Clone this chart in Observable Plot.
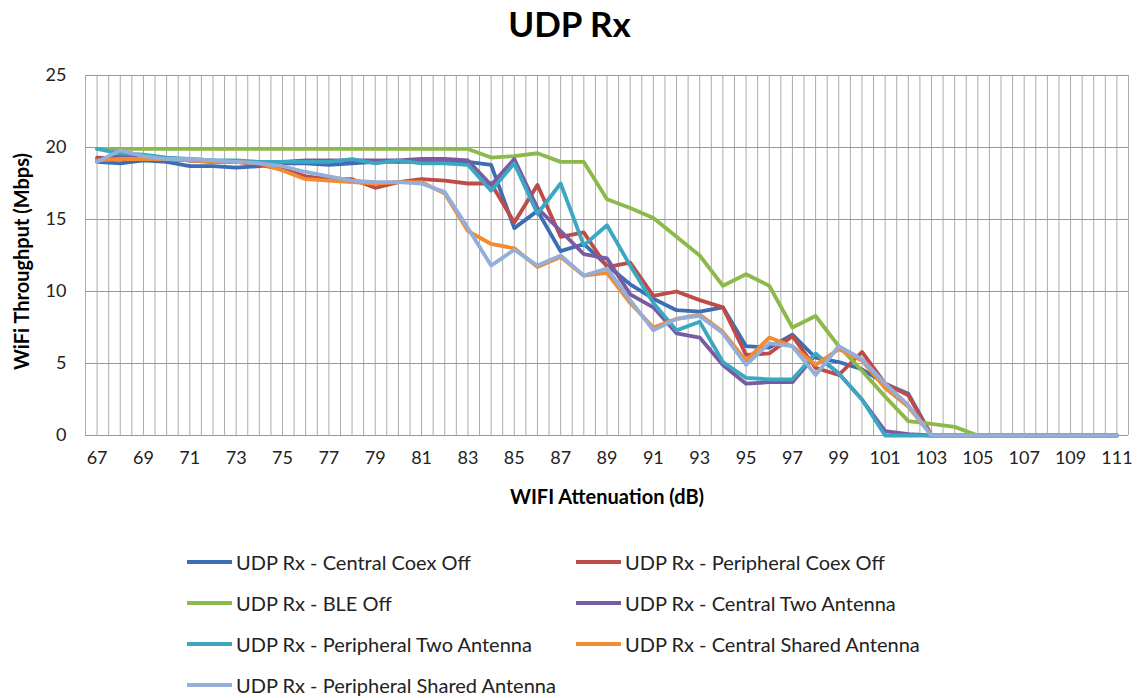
<!DOCTYPE html>
<html><head><meta charset="utf-8">
<script src="https://cdn.jsdelivr.net/npm/d3@7"></script>
<script src="https://cdn.jsdelivr.net/npm/@observablehq/plot@0.6"></script>
<style>
body{margin:0;background:#fff;font-family:Lato,"Open Sans",sans-serif;color:#000;width:1139px;height:698px;position:relative;overflow:hidden}
#title{position:absolute;left:0;top:0;width:1139px;text-align:center;font-weight:bold;font-size:35px;line-height:46px}
#chart{position:absolute;left:0;top:50px}
#legend{position:absolute;left:187px;top:541px;display:grid;grid-template-columns:389px 389px;grid-auto-rows:41px}
.item{display:flex;align-items:center;font-size:20px;color:#222;white-space:nowrap}
.sw{width:45px;height:4px;margin-right:4px}
</style></head><body>
<div id="title">UDP Rx</div>
<div id="chart"></div>
<div id="legend"></div>
<script>
const attenuation = [67,68,69,70,71,72,73,74,75,76,77,78,79,80,81,82,83,84,85,86,87,88,89,90,91,92,93,94,95,96,97,98,99,100,101,102,103,104,105,106,107,108,109,110,111];
const xTickLabels = [67,69,71,73,75,77,79,81,83,85,87,89,91,93,95,97,99,101,103,105,107,109,111];
const yTicks = [0,5,10,15,20,25];

const seriesNames = [
  "UDP Rx - Central Coex Off",
  "UDP Rx - Peripheral Coex Off",
  "UDP Rx - BLE Off",
  "UDP Rx - Central Two Antenna",
  "UDP Rx - Peripheral Two Antenna",
  "UDP Rx - Central Shared Antenna",
  "UDP Rx - Peripheral Shared Antenna"
];
const seriesColors = ["#3D6DB2","#BE4B48","#8DB84A","#7A5AA0","#3BA7C2","#F38B32","#94AEDA"];

const centralCoexOff = [19.0,18.9,19.1,19.0,18.7,18.7,18.6,18.7,18.9,18.9,18.8,18.9,19.0,19.0,19.0,19.0,19.0,18.8,14.4,15.6,12.8,13.3,11.8,10.5,9.5,8.7,8.6,8.9,6.2,6.1,7.0,5.4,5.1,4.6,3.6,2.9,0,0,0,0,0,0,0,0,0];
const peripheralCoexOff = [19.3,19.2,19.3,19.2,19.1,19.0,19.0,18.8,18.5,18.0,17.8,17.8,17.2,17.6,17.8,17.7,17.5,17.5,14.8,17.4,13.8,14.1,11.7,12.0,9.7,10.0,9.4,8.9,5.6,5.7,6.9,4.7,4.2,5.8,3.6,2.8,0,0,0,0,0,0,0,0,0];
const bleOff = [19.9,19.9,19.9,19.9,19.9,19.9,19.9,19.9,19.9,19.9,19.9,19.9,19.9,19.9,19.9,19.9,19.9,19.3,19.4,19.6,19.0,19.0,16.4,15.8,15.1,13.8,12.5,10.4,11.2,10.4,7.5,8.3,6.2,4.5,2.7,1.0,0.8,0.6,0,0,0,0,0,0,0];
const centralTwoAntenna = [19.2,19.4,19.3,19.2,19.1,19.0,19.0,19.0,19.0,19.1,19.1,19.1,19.1,19.1,19.2,19.2,19.1,17.4,19.2,15.8,14.2,12.6,12.3,9.8,8.9,7.1,6.8,4.9,3.6,3.7,3.7,5.6,4.3,2.5,0.3,0.1,0,0,0,0,0,0,0,0,0];
const peripheralTwoAntenna = [19.9,19.6,19.5,19.3,19.2,19.1,19.1,19.0,19.0,19.0,19.0,19.2,18.9,19.1,18.9,18.9,18.8,17.0,18.9,15.4,17.5,13.2,14.6,11.8,9.2,7.3,7.9,5.1,4.0,3.9,3.9,5.7,4.3,2.5,0,0,0,0,0,0,0,0,0,0,0];
const centralSharedAntenna = [19.1,19.2,19.2,19.2,19.1,19.0,19.0,18.9,18.4,17.8,17.7,17.6,17.5,17.6,17.6,16.8,14.2,13.3,13.0,11.7,12.4,11.1,11.3,9.2,7.5,8.1,8.4,7.2,5.2,6.8,6.2,4.9,6.0,5.2,3.3,2.0,0,0,0,0,0,0,0,0,0];
const peripheralSharedAntenna = [19.0,19.8,19.4,19.2,19.2,19.1,19.0,18.9,18.7,18.3,18.0,17.7,17.6,17.6,17.5,16.9,14.4,11.8,12.9,11.8,12.5,11.1,11.6,9.4,7.3,8.1,8.3,7.1,4.9,6.4,6.2,4.2,6.2,5.3,3.6,2.1,0,0,0,0,0,0,0,0,0];

const seriesValues = [centralCoexOff, peripheralCoexOff, bleOff, centralTwoAntenna, peripheralTwoAntenna, centralSharedAntenna, peripheralSharedAntenna];

const rows = [];
seriesNames.forEach((name, i) => {
  attenuation.forEach((a, j) => rows.push({series: name, x: a, y: seriesValues[i][j]}));
});

const font = "Lato, 'Open Sans', sans-serif";
const chart = Plot.plot({
  width: 1139, height: 470,
  marginTop: 25, marginBottom: 85, marginLeft: 85, marginRight: 11,
  style: {fontFamily: font, fontSize: "18px", color: "#222", background: "#fff", overflow: "visible"},
  x: {domain: [66.5, 111.5]},
  y: {domain: [0, 25]},
  color: {domain: seriesNames, range: seriesColors},
  marks: [
    Plot.ruleX(d3.range(66.5, 111.51, 0.5), {stroke: "#ababab", strokeWidth: 1}),
    Plot.ruleY(yTicks, {stroke: "#9a9a9a", strokeWidth: 1}),
    Plot.axisY({ticks: yTicks, tickSize: 0, tickPadding: 19, label: null, fontSize: 18}),
    Plot.axisX({ticks: xTickLabels, tickSize: 0, tickPadding: 16, label: null, fontSize: 18}),
    Plot.line(rows, {x: "x", y: "y", z: "series", stroke: "series", strokeWidth: 3.8, strokeLinejoin: "round", strokeLinecap: "round"}),
    Plot.text(["WiFi Throughput (Mbps)"], {frameAnchor: "left", textAnchor: "middle", rotate: -90, dx: -63, dy: 6, fontWeight: "bold", fontSize: 20, fill: "#000"}),
    Plot.text(["WIFI Attenuation (dB)"], {frameAnchor: "bottom", textAnchor: "middle", dy: 68, fontWeight: "bold", fontSize: 20, fill: "#000"})
  ]
});
document.getElementById("chart").appendChild(chart);

const legend = document.getElementById("legend");
seriesNames.forEach((name, i) => {
  const item = document.createElement("div");
  item.className = "item";
  const sw = document.createElement("span");
  sw.className = "sw";
  sw.style.background = seriesColors[i];
  const label = document.createElement("span");
  label.textContent = name;
  item.appendChild(sw);
  item.appendChild(label);
  legend.appendChild(item);
});
</script>
</body></html>
